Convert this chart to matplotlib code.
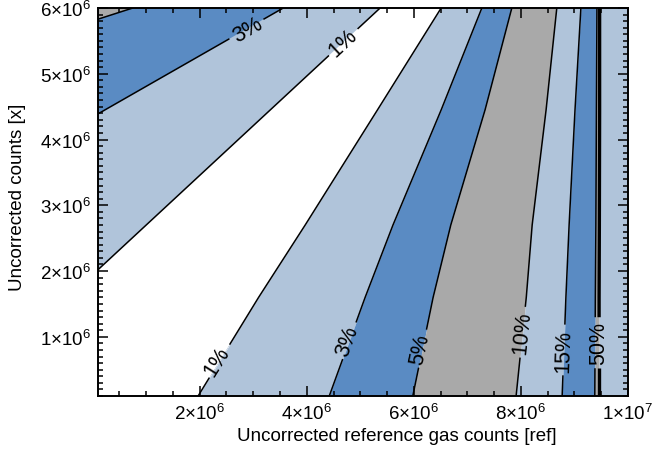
import numpy as np
import matplotlib
matplotlib.use('Agg')
import matplotlib.pyplot as plt
from matplotlib.ticker import MultipleLocator

plt.rcParams['font.family'] = ['Liberation Sans', 'DejaVu Sans']
plt.rcParams['mathtext.fontset'] = 'custom'
plt.rcParams['mathtext.rm'] = 'Liberation Sans'
plt.rcParams['mathtext.it'] = 'Liberation Sans:italic'
plt.rcParams['mathtext.bf'] = 'Liberation Sans:bold'

# Limites del grafico
X_RANGE = (1e5, 1e7)
Y_RANGE = (1e5, 6e6)

# Colores de las bandas
WHITE = '#ffffff'
LIGHT = '#b0c4da'
BLUE = '#5a8bc3'
GRAY = '#a9a9a9'

# Isolineas a la izquierda del minimo (salen por el borde izquierdo y el superior)
left_5_x = [1e5, 0.75e6]
left_5_y = [5.83e6, 6.0e6]
left_3_x = [1e5, 3.56e6]
left_3_y = [4.39e6, 6.0e6]
left_1_x = [1e5, 5.37e6]
left_1_y = [2.02e6, 6.0e6]

# Isolineas a la derecha del minimo (del borde inferior al superior)
right_y = [1e5, 1.6e6, 2.7e6, 4.45e6, 6.0e6]
right_1_x = [1.97e6, 3.10e6, 3.97e6, 5.32e6, 6.51e6]
right_3_x = [4.42e6, 5.09e6, 5.61e6, 6.51e6, 7.27e6]
right_5_x = [5.98e6, 6.36e6, 6.69e6, 7.33e6, 7.83e6]
right_10_x = [7.91e6, 8.10e6, 8.21e6, 8.47e6, 8.67e6]
right_15_x = [8.77e6, 8.84e6, 8.90e6, 9.01e6, 9.12e6]
right_50_x = [9.38e6, 9.39e6, 9.40e6, 9.41e6, 9.42e6]
right_100_x = [9.46e6, 9.46e6, 9.465e6, 9.47e6, 9.47e6]

# Etiquetas de las isolineas
label_text = ['3%', '1%', '1%', '3%', '5%', '10%', '15%', '50%']
label_x = [2.90e6, 4.68e6, 2.32e6, 4.75e6, 6.12e6, 8.02e6, 8.79e6, 9.45e6]
label_y = [5.68e6, 5.48e6, 0.63e6, 0.94e6, 0.82e6, 1.07e6, 0.80e6, 0.91e6]
label_rot = [30, 43, 58, 70, 78, 84, 88, 90]

x_ticks = [2e6, 4e6, 6e6, 8e6, 1e7]
x_ticklabels = [r'$2{\times}10^{6}$', r'$4{\times}10^{6}$', r'$6{\times}10^{6}$',
                r'$8{\times}10^{6}$', r'$1{\times}10^{7}$']
y_ticks = [1e6, 2e6, 3e6, 4e6, 5e6, 6e6]
y_ticklabels = [r'$%d{\times}10^{6}$' % i for i in range(1, 7)]

LABEL_SIZE = 15.5


def corte(xs, ys, y_lo, y_hi):
    # Parte una linea en dos dejando un hueco entre y_lo e y_hi
    xs, ys = np.asarray(xs), np.asarray(ys)
    x_lo, x_hi = np.interp([y_lo, y_hi], ys, xs)
    abajo = ys < y_lo
    arriba = ys > y_hi
    tramos = []
    if y_lo > ys[0]:
        tramos.append((np.r_[xs[abajo], x_lo], np.r_[ys[abajo], y_lo]))
    if y_hi < ys[-1]:
        tramos.append((np.r_[x_hi, xs[arriba]], np.r_[y_hi, ys[arriba]]))
    return tramos


fig = plt.figure(figsize=(6.68, 4.52), dpi=100)
ax = fig.add_axes([98 / 668, 1 - 397 / 452, 530 / 668, 388 / 452])
ax.set_xlim(*X_RANGE)
ax.set_ylim(*Y_RANGE)

xmin, xmax = X_RANGE
ymin, ymax = Y_RANGE
r1x = np.array(right_1_x)[::-1]
r1y = np.array(right_y)[::-1]

# Zona izquierda: se pinta de fuera hacia dentro
ax.fill(np.r_[xmin, xmin, r1x], np.r_[ymin, ymax, r1y], color=GRAY, lw=0)
for lx, ly, col in [(left_5_x, left_5_y, BLUE), (left_3_x, left_3_y, LIGHT),
                    (left_1_x, left_1_y, WHITE)]:
    ax.fill(np.r_[xmin, lx, r1x], np.r_[ymin, ly, r1y], color=col, lw=0)

# Zona derecha: bandas entre isolineas
bandas = [(right_1_x, right_3_x, LIGHT), (right_3_x, right_5_x, BLUE),
          (right_5_x, right_10_x, GRAY), (right_10_x, right_15_x, LIGHT),
          (right_15_x, right_50_x, BLUE), (right_50_x, right_100_x, GRAY),
          (right_100_x, [xmax] * len(right_y), LIGHT)]
for a, b, col in bandas:
    ax.fill_betweenx(right_y, a, b, color=col, lw=0)

lineas = [(left_5_x, left_5_y), (left_3_x, left_3_y), (left_1_x, left_1_y),
          (right_1_x, right_y), (right_3_x, right_y), (right_5_x, right_y),
          (right_10_x, right_y), (right_15_x, right_y), (right_50_x, right_y),
          (right_100_x, right_y)]
# que lineas corta cada etiqueta
corta = [[1], [2], [3], [4], [5], [6], [7], [8, 9]]

# tamaño de las etiquetas para calcular el hueco
renderer = fig.canvas.get_renderer()
px_y = (ymax - ymin) / 388.0
huecos = {}
for i, txt in enumerate(label_text):
    t = ax.text(0, 0, txt, fontsize=LABEL_SIZE)
    w = t.get_window_extent(renderer).width
    t.remove()
    half = (w / 2 + 4) * np.sin(np.radians(label_rot[i])) * px_y
    for k in corta[i]:
        huecos[k] = (label_y[i] - half, label_y[i] + half)

for k, (xs, ys) in enumerate(lineas):
    lw = 2.4 if k == 9 else 1.1
    if k in huecos:
        for tx, ty in corte(xs, ys, *huecos[k]):
            ax.plot(tx, ty, color='black', lw=lw, solid_capstyle='butt')
    else:
        ax.plot(xs, ys, color='black', lw=lw)

for i, txt in enumerate(label_text):
    ax.text(label_x[i], label_y[i], txt, fontsize=LABEL_SIZE, rotation=label_rot[i],
            ha='center', va='center', rotation_mode='anchor')

ax.set_xticks(x_ticks)
ax.set_xticklabels(x_ticklabels)
ax.set_yticks(y_ticks)
ax.set_yticklabels(y_ticklabels)
ax.xaxis.set_minor_locator(MultipleLocator(5e5))
ax.yaxis.set_minor_locator(MultipleLocator(1e5))
ax.tick_params(which='both', direction='in', top=True, right=True, width=1.1,
               labelsize=13.5)
ax.tick_params(which='major', length=7, pad=5)
ax.tick_params(which='minor', length=3.5)
for s in ax.spines.values():
    s.set_linewidth(1.4)
    s.set_zorder(5)

fig.text(397 / 668, 1 - 437 / 452, 'Uncorrected reference gas counts [ref]',
         fontsize=13.5, ha='center', va='center')
fig.text(18 / 668, 1 - 197 / 452, 'Uncorrected counts [x]', fontsize=13.5,
         rotation=90, ha='center', va='center')

fig.savefig('out.png', dpi=100)
